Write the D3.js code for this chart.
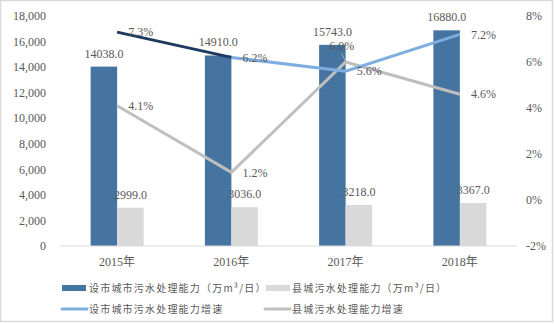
<!DOCTYPE html>
<html><head><meta charset="utf-8">
<script src="https://cdn.jsdelivr.net/npm/d3@7"></script>
<style>
html,body{margin:0;padding:0;background:#fff;}
svg text{font-family:"Liberation Serif","Noto Sans CJK SC",serif;}
</style>
</head><body>
<svg id="c" width="554" height="324"></svg>
<script>
const years = ["2015年","2016年","2017年","2018年"];
const cityCap = [14038.0, 14910.0, 15743.0, 16880.0];
const countyCap = [2999.0, 3036.0, 3218.0, 3367.0];
const cityGrowth = [7.3, 6.2, 5.6, 7.2];
const countyGrowth = [4.1, 1.2, 6.0, 4.6];
const leftTicks = [0,2000,4000,6000,8000,10000,12000,14000,16000,18000];
const rightTicks = [-2,0,2,4,6,8];
const legendNames = ["设市城市污水处理能力（万m³/日）","县城污水处理能力（万m³/日）","设市城市污水处理能力增速","县城污水处理能力增速"];

const svg = d3.select("#c");
const C = {bar1:"#44749F", bar2:"#D9D9D9", line1:"#7DAEDF", line1a:"#1F3A5F", line2:"#BFBFBF", text:"#595959"};

svg.append("rect").attr("x",0.5).attr("y",0.5).attr("width",552).attr("height",321)
  .attr("fill","#fff").attr("stroke","#D9D9D9").attr("stroke-width",1.5);

const x = d3.scaleBand().domain(years).range([60,517]);
const yL = d3.scaleLinear().domain([0,18000]).range([246,16]);
const yR = d3.scaleLinear().domain([-2,8]).range([246,16]);
const bw = 26.5;

// left axis labels
svg.append("g").selectAll("text").data(leftTicks).join("text")
  .attr("x",46).attr("y",d=>yL(d)).attr("dy","0.35em").attr("text-anchor","end")
  .attr("font-size",12).attr("fill",C.text).text(d=>d3.format(",")(d));
// right axis labels
svg.append("g").selectAll("text").data(rightTicks).join("text")
  .attr("x",526).attr("y",d=>yR(d)).attr("dy","0.35em").attr("text-anchor","start")
  .attr("font-size",12).attr("fill",C.text).text(d=>d+"%");

// bars
const cx = d=>x(d)+x.bandwidth()/2;
svg.append("g").selectAll("rect").data(years).join("rect")
  .attr("x",(d)=>cx(d)-bw).attr("width",bw)
  .attr("y",(d,i)=>yL(cityCap[i])).attr("height",(d,i)=>yL(0)-yL(cityCap[i]))
  .attr("fill",C.bar1);
svg.append("g").selectAll("rect").data(years).join("rect")
  .attr("x",(d)=>cx(d)).attr("width",bw)
  .attr("y",(d,i)=>yL(countyCap[i])).attr("height",(d,i)=>yL(0)-yL(countyCap[i]))
  .attr("fill",C.bar2);

// baseline
svg.append("line").attr("x1",60).attr("x2",517).attr("y1",yL(0)).attr("y2",yL(0))
  .attr("stroke","#D9D9D9").attr("stroke-width",1);

// x labels
svg.append("g").selectAll("text").data(years).join("text")
  .attr("x",d=>cx(d)).attr("y",262).attr("dy","0.35em").attr("text-anchor","middle")
  .attr("font-size",12).attr("fill",C.text).text(d=>d);

// bar labels
svg.append("g").selectAll("text").data(years).join("text")
  .attr("x",d=>cx(d)-bw/2).attr("y",(d,i)=>yL(cityCap[i])-9).attr("text-anchor","middle")
  .attr("font-size",12).attr("fill",C.text).text((d,i)=>cityCap[i].toFixed(1));
svg.append("g").selectAll("text").data(years).join("text")
  .attr("x",d=>cx(d)+bw/2).attr("y",(d,i)=>yL(countyCap[i])-9).attr("text-anchor","middle")
  .attr("font-size",12).attr("fill",C.text).text((d,i)=>countyCap[i].toFixed(1));

// lines
const line = d3.line().x(d=>cx(d[0])).y(d=>yR(d[1]));
const countyPts = years.map((y,i)=>[y,countyGrowth[i]]);
svg.append("path").datum(countyPts).attr("d",line).attr("fill","none")
  .attr("stroke",C.line2).attr("stroke-width",3);
const cityPts = years.map((y,i)=>[y,cityGrowth[i]]);
svg.append("path").datum(cityPts.slice(1)).attr("d",line).attr("fill","none")
  .attr("stroke",C.line1).attr("stroke-width",3);
svg.append("path").datum(cityPts.slice(0,2)).attr("d",line).attr("fill","none")
  .attr("stroke",C.line1a).attr("stroke-width",3);

// line labels
svg.append("g").selectAll("text").data(cityPts).join("text")
  .attr("x",d=>cx(d[0])+11).attr("y",d=>yR(d[1])).attr("dy","0.35em")
  .attr("font-size",12).attr("fill",C.text).text(d=>d[1].toFixed(1)+"%");
svg.append("g").selectAll("text").data(countyPts).join("text")
  .attr("x",(d,i)=>i===2?cx(d[0])-4:cx(d[0])+11)
  .attr("y",(d,i)=>i===2?yR(d[1])-16:yR(d[1])).attr("dy","0.35em")
  .attr("text-anchor",(d,i)=>i===2?"middle":"start")
  .attr("font-size",12).attr("fill",C.text).text(d=>d[1].toFixed(1)+"%");
// leader line for 2017 county label
svg.append("line").attr("x1",cx(years[2])-4).attr("y1",yR(countyGrowth[2])-9)
  .attr("x2",cx(years[2])).attr("y2",yR(countyGrowth[2])).attr("stroke","#A6A6A6").attr("stroke-width",1);

// legend
const leg = [
  {n:legendNames[0], type:"rect", c:C.bar1, x:62, y:288, tx:89},
  {n:legendNames[1], type:"rect", c:C.bar2, x:266, y:288, tx:292},
  {n:legendNames[2], type:"line", c:C.line1, x:62, y:309, tx:89},
  {n:legendNames[3], type:"line", c:C.line2, x:265, y:309, tx:292}
];
const lg = svg.append("g");
leg.forEach(d=>{
  if(d.type==="rect") lg.append("rect").attr("x",d.x).attr("y",d.y-3).attr("width",24).attr("height",6).attr("fill",d.c);
  else lg.append("line").attr("x1",d.x).attr("x2",d.x+25).attr("y1",d.y).attr("y2",d.y)
    .attr("stroke",d.c).attr("stroke-width",3).attr("stroke-linecap","round");
  lg.append("text").attr("x",d.tx).attr("y",d.y).attr("dy","0.35em")
    .attr("font-size",10).attr("letter-spacing","1.2px").attr("fill",C.text)
    .style("font-family","'Noto Sans CJK SC',sans-serif").text(d.n);
});
</script>
</body></html>
